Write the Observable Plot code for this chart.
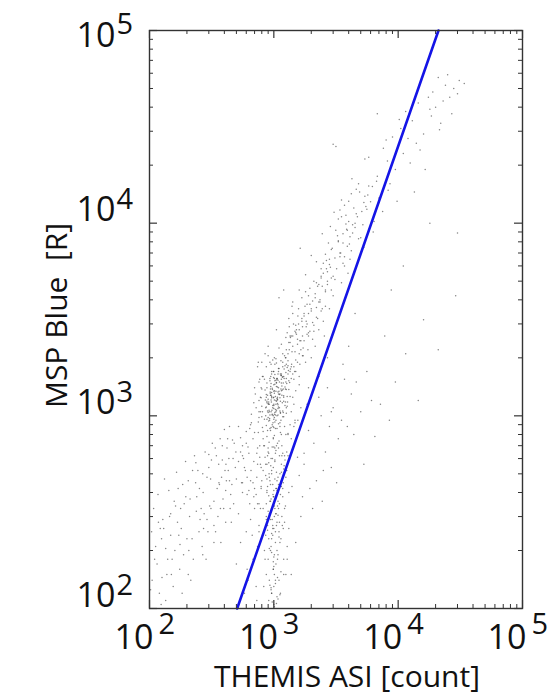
<!DOCTYPE html>
<html>
<head>
<meta charset="utf-8">
<script src="https://cdn.jsdelivr.net/npm/d3@7"></script>
<script src="https://cdn.jsdelivr.net/npm/@observablehq/plot@0.6"></script>
<style>
  html, body { margin: 0; padding: 0; background: #fff; }
  #chart svg { display: block; }
</style>
</head>
<body>
<div id="chart"></div>
<script>
// Axis decades and their labels (10^2 ... 10^5)
const decades = [100, 1000, 10000, 100000];
const decadeExponents = ["2", "3", "4", "5"];
const minorSteps = [2, 3, 4, 5, 6, 7, 8, 9];

const xTitle = "THEMIS ASI [count]";
const yTitle = "MSP Blue\u00a0 [R]";

// Paired samples: THEMIS ASI brightness [count] vs MSP blue-line intensity [R]
const asiCount = [
  // dense core
  905,1010,960,1120,870,1050,990,1180,930,1080,
  1240,880,1000,1090,950,1150,860,1030,970,1290,
  1020,915,1130,1060,890,1200,980,940,1100,1340,
  850,1070,1160,925,1010,1260,880,1040,995,1140,
  960,1110,900,1190,1030,870,1080,945,1220,1000,
  1060,930,1170,840,1000,1130,975,1210,890,1050,
  915,1280,1020,1090,955,870,1150,1000,1250,935,
  1110,990,860,1040,1190,910,1070,1320,965,1140,
  1010,880,1230,945,1080,1160,900,1050,1380,985,
  1120,930,1270,1000,855,1060,1180,970,1100,1310,
  960,1040,1200,890,1140,1010,925,1080,1260,1350,
  1030,950,1090,870,1170,985,1120,1050,910,1230,
  // low-intensity streak under the core
  900,1020,960,850,1080,940,1000,1150,880,1050,
  990,930,1110,870,1040,960,1190,910,1010,820,
  1060,950,890,1000,1130,920,980,1070,860,1030,
  940,1100,970,900,1020,880,1160,990,1050,910,
  1010,950,1080,920,980,1040,870,1000,1120,960,
  930,1060,990,890,1030,960,1140,900,1000,1070,
  1180,860,1020,945,1090,975,915,1050,1110,985,
  840,1030,960,1200,910,1000,1080,880,1150,950,
  // left flank of the core
  760,700,620,790,680,740,560,810,650,720,
  590,770,660,730,800,540,690,750,610,780,
  710,640,790,570,760,680,820,600,730,690,
  500,750,630,800,720,580,770,660,810,740,
  630,560,790,700,520,760,650,800,740,600,
  // faint diffuse cloud
  105,112,120,130,108,140,117,150,125,135,
  145,160,170,155,180,165,190,175,200,185,
  210,195,225,240,205,250,230,215,260,245,
  270,290,280,310,265,330,300,350,320,285,
  360,340,380,370,395,345,410,385,400,355,
  430,420,450,440,470,455,480,415,490,445,
  115,128,138,148,132,158,122,168,188,178,
  220,235,212,255,275,268,295,315,305,330,
  365,390,375,405,425,460,435,475,495,410,
  520,600,560,680,640,720,540,760,610,700,
  580,650,740,500,690,620,780,550,670,730,
  // bright ASI, weak MSP
  1250,1400,1320,1550,1280,1700,1450,1220,1600,1380,
  1900,1750,2100,1480,2400,1650,2800,1300,2200,1850,
  3000,2600,3500,4200,2300,5000,3300,6100,2700,3900,
  7200,4600,8500,2900,5600,1950,3700,14500,6500,2450,
  // main ridge, lower part
  1150,1300,1220,1420,1180,1550,1350,1260,1480,1600,
  1380,1700,1250,1500,1820,1320,1650,1440,1900,1280,
  1560,1750,1400,2000,1620,1200,1850,1470,2100,1330,
  1950,1680,2200,1520,1780,2350,1600,1420,2050,1880,
  1240,1450,1720,1360,2450,1580,1900,1150,2150,1680,
  2300,1800,2600,1500,2000,1320,2500,1700,2250,1950,
  1620,2700,1280,2150,1850,2400,1420,2800,1750,2050,
  1390,1520,2550,1800,1250,2900,2200,1600,2650,1950,
  // main ridge, middle part
  2300,2700,3100,2500,3400,2900,3700,2600,3300,3900,
  2800,3600,4200,3000,4500,3200,2400,4000,3500,4800,
  3800,5200,2750,4400,3150,5600,4100,3450,6000,2900,
  4700,3300,5000,2600,4300,3700,5400,2200,4900,3950,
  6300,3500,5800,2450,4600,7000,3850,2100,5300,6700,
  2350,4050,7500,3050,5500,6400,4250,8300,3600,2850,
  // main ridge, upper part
  6800,8200,9500,7600,11000,9000,12500,8600,10500,14000,
  13000,16000,11500,18500,15000,20000,12000,17500,22000,14500,
  19000,24000,26000,21000,28000,23000,31000,25000,34000,18000,
  9800,5400,7000,13500,10200,27000,16500,30000,21500,8000,
  // scattered outliers
  3160,5800,3000,6800,1200,1630,18000,30000,16000,29000,
  21000,1050,1400,900,11000,8800,750,1100,2000,4500,
  // core, densest part
  980,1040,1010,950,1070,1000,1120,960,1030,1090,
  1060,920,1150,1000,1080,970,1200,1020,940,1130,
  1100,1180,1050,990,1260,1140,1070,1210,1020,1300,
  900,970,1020,935,1060,1010,880,990,950,1040,
  // core, outer part
  780,1350,820,1450,760,1500,800,1420,1600,790,
  830,1380,1550,850,1250,770,1480,900,1300,810,
  1180,1420,870,1330,980,1500,760,1100,1270,840,
  1040,1220,930,1380,820,1160,1010,1450,890,1300,
  950,1120,1060,880,1200,1000,1280,920,1080,1150,
  1010,970,1050,1130,900,1190,1070,940,1240,1000,
  1090,1170,930,1020,1260,1110,960,1040,1150,880,
  1320,990,1070,1230,1130,1040,1180,950,1360,1090,
  // streak, wider part
  780,1250,820,1300,760,1180,850,1220,1100,790,
  1280,740,1210,860,1150,800,1250,830,1190,1320,
  1020,960,1060,1000,940,1040,980,1100,920,1070,
  990,1030,950,1080,1010,970,1120,930,1050,1000,
  1160,900,1240,870,1200,840,1130,910,1090,1170,
  1050,980,1150,910,1010,1110,960,1060,1230,880,
  1000,1080,940,1180,1030,870,1140,960,1040,1200,
  920,1060,990,1120,890,1010,1270,950,1090,1020,
  // ridge, additional samples
  1350,1600,1480,1750,1420,1900,1550,1300,1680,1820,
  2000,1650,2300,1850,2150,1500,2450,1720,2050,2600,
  2500,2850,2200,3100,2700,3400,2400,3000,2650,3250,
  3600,2950,3900,3300,4300,3700,2800,4100,3500,4600,
  4000,5100,4500,3800,5700,4800,3400,6200,5300,4200,
  1260,1700,1900,2250,1450,2400,1580,2100,1800,1350,
  // diffuse cloud, additional samples
  102,110,118,126,135,143,152,162,172,183,
  196,207,222,238,252,272,290,312,338,362,
  385,412,440,465,520,560,610,655,700,540,
  104,124,148,176,205,236,268,300,330,372,
  // bright ASI, weak MSP, additional samples
  1500,1750,2050,2500,3200,4400,1650,2900,5300,9500,
  1380,1900,2300,3600,1560,2700,4000,7800,1250,11500
];

const mspBlue = [
  // dense core
  1150,980,1320,1240,890,1420,760,1060,1010,1530,
  1380,1190,870,1110,1470,1620,1000,1260,690,1180,
  930,1070,820,1560,1280,990,1130,840,1340,1490,
  1360,720,1430,970,1210,1100,780,1050,1580,950,
  1240,1290,1040,1380,860,1110,1650,1420,880,1340,
  1000,1520,1170,960,1090,1030,1370,1560,840,1190,
  730,1260,1460,910,1180,1250,800,960,1680,1310,
  1500,1240,1100,1340,1040,940,1250,1370,1070,1620,
  790,1400,1130,1600,1090,1280,1160,1480,1560,920,
  1060,860,1470,1130,1210,1560,990,1020,740,1720,
  1700,1150,1190,1060,1380,1310,950,1140,1030,1260,
  1010,1210,1760,1290,1590,880,920,1070,1180,1410,
  // low-intensity streak under the core
  650,590,520,610,480,440,690,560,400,510,
  380,460,620,350,420,330,450,570,300,520,
  280,370,430,260,390,310,240,340,490,220,
  200,250,290,180,330,410,300,160,270,230,
  150,210,190,140,260,170,290,130,220,120,
  360,115,175,255,135,195,155,320,105,145,
  640,560,470,550,680,600,500,420,350,390,
  700,640,245,530,385,165,305,470,430,125,
  // left flank of the core
  980,820,690,1240,760,560,620,870,900,1100,
  520,700,1020,640,1380,770,580,930,480,1050,
  1300,860,540,600,1500,450,760,720,480,1170,
  470,820,640,1120,390,540,610,920,1600,1800,
  410,700,430,1400,580,350,460,990,680,830,
  // faint diffuse cloud
  140,210,120,260,330,180,390,150,230,110,
  300,200,420,130,260,510,350,160,230,440,
  300,580,180,380,460,250,620,140,330,520,
  400,290,650,470,210,360,540,420,720,180,
  560,250,480,760,330,620,410,590,850,300,
  520,680,390,880,600,280,720,460,540,330,
  170,290,150,240,470,360,260,280,190,330,
  230,450,370,290,310,500,250,590,340,270,
  440,370,220,520,760,440,600,350,650,280,
  310,250,400,180,350,130,220,270,160,420,
  120,290,210,170,380,140,330,450,240,110,
  // bright ASI, weak MSP
  520,430,260,610,180,380,700,330,490,150,
  840,560,720,920,1000,300,880,810,460,1150,
  1100,650,950,1300,1250,1050,760,1200,1400,880,
  1150,1500,950,540,1700,420,1550,1200,780,360,
  // main ridge, lower part
  1650,1820,2050,2300,1900,2500,1700,2200,2750,2100,
  2600,2900,1500,1950,3100,2400,2200,3000,2700,1780,
  3300,2450,2150,3500,1850,1600,2650,1700,2950,2900,
  3800,3200,3250,2800,3700,4000,1600,3400,2500,2200,
  2000,1550,2050,2550,3600,3600,4200,2350,4300,4100,
  2800,1900,4400,2950,2000,3200,3100,2600,4700,4600,
  2450,5000,2700,2300,3000,5200,3900,3600,3400,3950,
  1850,2650,2600,5400,2550,4500,3650,4500,5800,2750,
  // main ridge, middle part
  4800,5600,5100,6200,6700,7300,6000,4500,8100,7600,
  6500,8800,7200,4200,9500,5800,5300,10200,4900,8300,
  11000,9800,7900,12000,9200,11800,6500,7000,12900,5200,
  10800,10500,8400,6900,8900,12400,13800,6300,14500,5500,
  9000,13200,15600,8800,15000,13500,9300,5000,7500,16500,
  3900,7800,11500,11400,12200,10200,17000,14800,6200,9600,
  // main ridge, upper part
  17500,21000,19000,24500,23000,28000,20500,16000,31000,26000,
  34000,29000,38000,36000,24000,40000,27500,45000,33000,42000,
  48000,52000,45000,57000,50000,43000,55000,59000,53000,39000,
  13000,21500,12800,14500,34500,37000,19000,47000,30500,27000,
  // scattered outliers
  25000,22000,25700,37000,4500,7400,10000,8900,3150,4200,
  2200,2800,3700,2300,6000,4500,1900,4100,6800,3400,
  // core, densest part
  1100,1200,1350,1050,1160,1450,1300,1260,1080,1400,
  1550,1150,1480,1250,1330,1010,1250,1640,1380,1190,
  1760,1800,1880,1700,1560,1930,1220,1750,1520,1930,
  980,900,1040,1330,860,1560,960,1000,870,950,
  // core, outer part
  1250,900,1600,1150,1050,1350,1900,1650,1450,1400,
  700,1800,1900,2100,2000,1550,950,2050,800,1050,
  2100,1250,1800,2200,1950,1700,1200,2250,650,1550,
  660,620,1900,1050,830,700,2000,880,620,1650,
  1280,880,1230,1170,1270,1150,1120,1050,1010,1350,
  1020,1390,1490,1040,1220,1480,1410,1280,1180,1700,
  1700,1360,1560,1850,1370,1100,1650,1530,1550,1480,
  1520,770,1210,1820,1650,1980,1590,1850,1750,1300,
  // streak, wider part
  560,480,330,620,250,380,180,280,140,420,
  210,350,550,240,460,460,150,130,260,400,
  580,500,460,410,360,310,270,235,205,180,
  160,140,128,112,102,108,118,132,106,185,
  620,680,340,300,180,200,120,110,330,270,
  700,440,510,640,340,280,230,200,590,560,
  380,360,290,420,250,150,230,120,310,150,
  480,410,540,500,270,190,520,600,440,680,
  // ridge, additional samples
  2400,2800,2150,3300,2600,3400,2350,2100,3100,2900,
  3600,2450,3900,3800,4100,2700,4700,2250,3050,3700,
  5500,5900,4900,6600,4800,7000,5800,5300,6400,8600,
  7900,7400,9200,8000,9800,6700,6100,8500,10800,11200,
  13000,11500,10000,9900,14000,16000,11700,15500,12800,14200,
  1850,2050,2600,3200,1800,3500,3000,2750,4400,2600,
  // diffuse cloud, additional samples
  125,180,280,145,205,410,180,340,240,120,
  380,200,520,320,420,260,480,330,680,450,
  700,560,460,750,880,450,390,520,330,650,
  250,105,310,215,150,570,190,630,220,330,
  // bright ASI, weak MSP, additional samples
  220,640,330,520,450,800,1100,1050,560,1500,
  760,1400,1600,1850,950,2000,2300,2600,800,2100
];

// Power-law fit, drawn between its two end samples
const fitAsi = [507, 21100];
const fitMsp = [100, 100000];

const points = asiCount.map((x, i) => ({x, y: mspBlue[i]}));
const fit = fitAsi.map((x, i) => ({x, y: fitMsp[i]}));
const minorTicks = decades.slice(0, -1).flatMap(d => minorSteps.map(m => d * m));
const labels = decades.map((v, i) => ({v, e: decadeExponents[i]}));

const W = 556, H = 698;
const mL = 149, mR = 34, mT = 30, mB = 90;
const frameW = W - mL - mR, frameH = H - mT - mB;
const major = 8, minor = 4;
const axisColor = "#333";

// inward ticks on all four sides of the box
function boxTicks(values, len, width) {
  return [
    Plot.ruleX(values, {x: d => d, insetTop: frameH - len, stroke: axisColor, strokeWidth: width}),
    Plot.ruleX(values, {x: d => d, insetBottom: frameH - len, stroke: axisColor, strokeWidth: width}),
    Plot.ruleY(values, {y: d => d, insetRight: frameW - len, stroke: axisColor, strokeWidth: width}),
    Plot.ruleY(values, {y: d => d, insetLeft: frameW - len, stroke: axisColor, strokeWidth: width})
  ];
}

const font = "'Open Sans', 'DejaVu Sans', sans-serif";
const tickFont = 34, expFont = 29;

const chart = Plot.plot({
  width: W, height: H,
  marginLeft: mL, marginRight: mR, marginTop: mT, marginBottom: mB,
  x: {type: "log", domain: [100, 100000], axis: null},
  y: {type: "log", domain: [100, 100000], axis: null},
  style: {fontFamily: font, background: "white", color: "#111"},
  marks: [
    Plot.dot(points, {x: "x", y: "y", r: 0.75, fill: "#333", fillOpacity: 0.6, stroke: null}),
    Plot.line(fit, {x: "x", y: "y", stroke: "#1414e6", strokeWidth: 2.6}),
    ...boxTicks(minorTicks, minor, 1),
    ...boxTicks(decades, major, 1.2),
    Plot.frame({stroke: axisColor, strokeWidth: 1.4}),
    // x tick labels: "10" + raised exponent
    Plot.text(labels, {x: "v", frameAnchor: "bottom", dy: 40, dx: 4, text: () => "10",
      textAnchor: "end", lineAnchor: "bottom", fontSize: tickFont, fill: "#111"}),
    Plot.text(labels, {x: "v", frameAnchor: "bottom", dy: 25, dx: 9, text: "e",
      textAnchor: "start", lineAnchor: "bottom", fontSize: expFont, fill: "#111"}),
    // y tick labels (the top one sits lower, inside the figure)
    Plot.text(labels.slice(0, -1), {y: "v", frameAnchor: "left", dx: -34, dy: -2, text: () => "10",
      textAnchor: "end", lineAnchor: "bottom", fontSize: tickFont, fill: "#111"}),
    Plot.text(labels.slice(0, -1), {y: "v", frameAnchor: "left", dx: -33, dy: -14, text: "e",
      textAnchor: "start", lineAnchor: "bottom", fontSize: expFont, fill: "#111"}),
    Plot.text(labels.slice(-1), {y: "v", frameAnchor: "left", dx: -34, dy: 16, text: () => "10",
      textAnchor: "end", lineAnchor: "bottom", fontSize: tickFont, fill: "#111"}),
    Plot.text(labels.slice(-1), {y: "v", frameAnchor: "left", dx: -33, dy: 3, text: "e",
      textAnchor: "start", lineAnchor: "bottom", fontSize: expFont, fill: "#111"}),
    // axis titles
    Plot.text([xTitle], {frameAnchor: "bottom", dy: 78, dx: 11, text: d => d,
      textAnchor: "middle", lineAnchor: "bottom", fontSize: 30, fill: "#111"}),
    Plot.text([yTitle], {frameAnchor: "left", dx: -83, dy: -4, text: d => d, rotate: -90,
      textAnchor: "middle", lineAnchor: "bottom", fontSize: 30, fill: "#111"})
  ]
});

document.getElementById("chart").appendChild(chart);
</script>
</body>
</html>
